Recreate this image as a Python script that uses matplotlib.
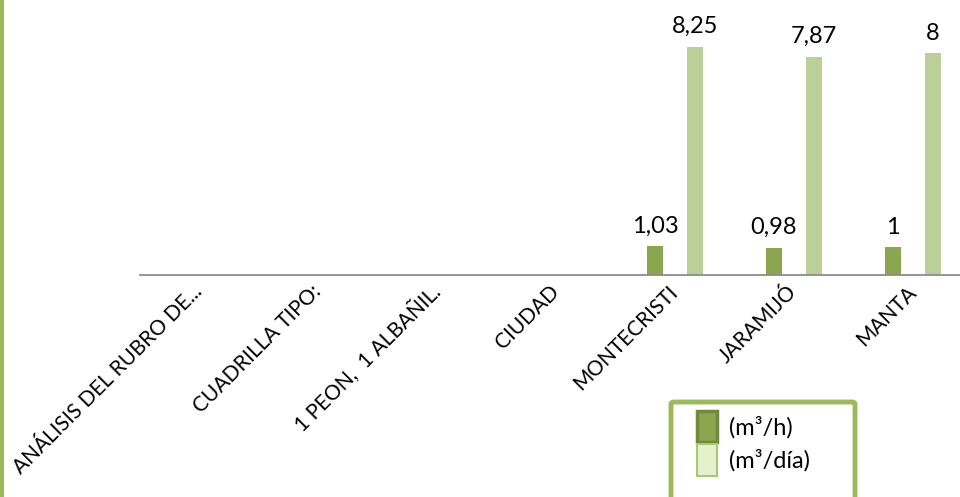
import matplotlib as mpl
mpl.use('Agg')
import matplotlib.pyplot as plt
import numpy as np
from matplotlib.patches import FancyBboxPatch, Rectangle

plt.rcParams['font.family'] = ['Lato', 'DejaVu Sans']

categorias = ['ANÁLISIS DEL RUBRO DE...', 'CUADRILLA TIPO:', '1 PEON,  1 ALBAÑIL.',
              'CIUDAD', 'MONTECRISTI', 'JARAMIJÓ', 'MANTA']
m3_hora = [None, None, None, None, 1.03, 0.98, 1]
m3_dia = [None, None, None, None, 8.25, 7.87, 8]
etiquetas_hora = ['1,03', '0,98', '1']
etiquetas_dia = ['8,25', '7,87', '8']

W, H = 960, 497
fig = plt.figure(figsize=(W / 100, H / 100), dpi=100)
# plot area runs past the right edge of the figure
ax = fig.add_axes([139.5 / W, (H - 275) / H, 833 / W, 275 / H])

oscuro = '#8AA64F'
claro = '#BBCF99'
x = np.arange(len(categorias))
ancho = 16 / 119

def valores(serie):
    return [np.nan if v is None else v for v in serie]

b1 = ax.bar(x - 20 / 119, valores(m3_hora), width=ancho, color=oscuro, label='(m³/h)')
b2 = ax.bar(x + 20 / 119, valores(m3_dia), width=ancho, color=claro, label='(m³/día)')

idx = [i for i, v in enumerate(m3_hora) if v is not None]
for k, i in enumerate(idx):
    ax.annotate(etiquetas_hora[k], (x[i] - 20 / 119, m3_hora[i]), xytext=(0, 7),
                textcoords='offset points', ha='center', va='bottom', fontsize=17)
    ax.annotate(etiquetas_dia[k], (x[i] + 20 / 119, m3_dia[i]), xytext=(0, 7),
                textcoords='offset points', ha='center', va='bottom', fontsize=17)

ax.set_xlim(-0.5, 6.5)
ax.set_ylim(0, 9.93)
ax.set_yticks([])
for s in ['top', 'right', 'left']:
    ax.spines[s].set_visible(False)
ax.spines['bottom'].set_color('#8C8C8C')
ax.spines['bottom'].set_linewidth(1.3)
ax.set_xticks(x)
ax.set_xticklabels(categorias, rotation=45, ha='right', va='center',
                   rotation_mode='anchor', fontsize=15)
ax.tick_params(axis='x', length=0, pad=10)
ax.patch.set_visible(False)

# green frame edge on the left
fig.add_artist(Rectangle((0, 0), 3.5 / W, 1, transform=fig.transFigure,
                         color='#9BBB59', lw=0))

# legend box
fig.add_artist(FancyBboxPatch((671 / W, -0.05), 184 / W, (H - 402) / H + 0.05,
                              boxstyle='round,pad=0,rounding_size=0.004',
                              transform=fig.transFigure, fill=False,
                              edgecolor='#9BBB59', lw=3.5))
leg = fig.legend(handles=[b1, b2], loc='upper left', bbox_to_anchor=(697 / W, (H - 411) / H),
                 frameon=False, fontsize=17, handlelength=0.85, handleheight=1.65,
                 handletextpad=0.5, labelspacing=0.1, borderaxespad=0, borderpad=0)
leg.legend_handles[0].set_edgecolor('#71893F')
leg.legend_handles[0].set_linewidth(2.5)
leg.legend_handles[1].set_facecolor('#E4F2CC')
leg.legend_handles[1].set_edgecolor('#A9C576')
leg.legend_handles[1].set_linewidth(1.5)

fig.savefig('out.png', dpi=100)
